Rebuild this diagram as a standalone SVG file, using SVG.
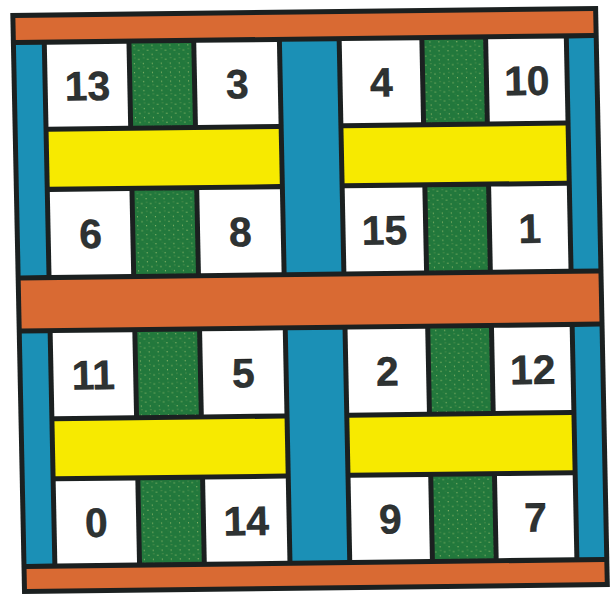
<svg xmlns="http://www.w3.org/2000/svg" width="616" height="595" viewBox="0 0 616 595">
<defs>
<pattern id="speck" width="9" height="9" patternUnits="userSpaceOnUse">
<rect width="9" height="9" fill="#22783c"/>
<circle cx="2" cy="3" r="0.7" fill="#8db868"/>
<circle cx="6.5" cy="7" r="0.6" fill="#9cc070"/>
<circle cx="7" cy="1.5" r="0.5" fill="#6fa058"/>
<circle cx="4" cy="5.5" r="0.4" fill="#5f9850"/>
</pattern>
</defs>
<style>
.frame{fill:#1b2020}
.or{fill:#d96a33}
.bl{fill:#1b90b6}
.gr{fill:url(#speck)}
.ye{fill:#f7ea00}
.ce{fill:#ffffff}
.num{font-family:"Liberation Sans",Arial,sans-serif;font-weight:bold;font-size:41px;fill:#2e3333;stroke:#111;stroke-width:0.4;text-anchor:middle}
</style>
<rect width="616" height="595" fill="#ffffff"/>
<g transform="matrix(0.9962 -0.0119 0.0203 1.0017 10.3 13.0)">
<rect class="frame" x="0" y="0" width="590" height="580"/>
<g id="bands">
<rect class="or" x="5" y="5" width="580" height="22"/>
<rect class="or" x="5" y="267" width="580" height="48"/>
<rect class="or" x="5" y="555" width="580" height="20"/>
<rect class="bl" x="5" y="32" width="26" height="230"/>
<rect class="bl" x="272" y="32" width="55" height="230"/>
<rect class="bl" x="560" y="32" width="25" height="230"/>
<rect class="bl" x="5" y="320" width="26" height="230"/>
<rect class="bl" x="272" y="320" width="55" height="230"/>
<rect class="bl" x="560" y="320" width="25" height="230"/>
<rect class="gr" x="121" y="32" width="60" height="82"/>
<rect class="gr" x="121" y="179" width="60" height="83"/>
<rect class="gr" x="415" y="32" width="59" height="82"/>
<rect class="gr" x="415" y="179" width="59" height="83"/>
<rect class="gr" x="121" y="320" width="60" height="83"/>
<rect class="gr" x="121" y="468" width="60" height="82"/>
<rect class="gr" x="415" y="320" width="59" height="83"/>
<rect class="gr" x="415" y="468" width="59" height="82"/>
<rect class="ye" x="36" y="119" width="231" height="55"/>
<rect class="ye" x="332" y="119" width="223" height="55"/>
<rect class="ye" x="36" y="408" width="231" height="55"/>
<rect class="ye" x="332" y="408" width="223" height="55"/>
</g>
<g id="c13"><rect class="ce" x="36" y="32" width="80" height="82"/><text class="num" x="76" y="88">13</text></g>
<g id="c3"><rect class="ce" x="186" y="32" width="81" height="82"/><text class="num" x="226.5" y="88">3</text></g>
<g id="c4"><rect class="ce" x="332" y="32" width="78" height="82"/><text class="num" x="371" y="88">4</text></g>
<g id="c10"><rect class="ce" x="479" y="32" width="76" height="82"/><text class="num" x="517" y="88">10</text></g>
<g id="c6"><rect class="ce" x="36" y="179" width="80" height="83"/><text class="num" x="76" y="235.5">6</text></g>
<g id="c8"><rect class="ce" x="186" y="179" width="81" height="83"/><text class="num" x="226.5" y="235.5">8</text></g>
<g id="c15"><rect class="ce" x="332" y="179" width="78" height="83"/><text class="num" x="371" y="235.5">15</text></g>
<g id="c1"><rect class="ce" x="479" y="179" width="76" height="83"/><text class="num" x="517" y="235.5">1</text></g>
<g id="c11"><rect class="ce" x="36" y="320" width="80" height="83"/><text class="num" x="76" y="376.5">11</text></g>
<g id="c5"><rect class="ce" x="186" y="320" width="81" height="83"/><text class="num" x="226.5" y="376.5">5</text></g>
<g id="c2"><rect class="ce" x="332" y="320" width="78" height="83"/><text class="num" x="371" y="376.5">2</text></g>
<g id="c12"><rect class="ce" x="479" y="320" width="76" height="83"/><text class="num" x="517" y="376.5">12</text></g>
<g id="c0"><rect class="ce" x="36" y="468" width="80" height="82"/><text class="num" x="76" y="524">0</text></g>
<g id="c14"><rect class="ce" x="186" y="468" width="81" height="82"/><text class="num" x="226.5" y="524">14</text></g>
<g id="c9"><rect class="ce" x="332" y="468" width="78" height="82"/><text class="num" x="371" y="524">9</text></g>
<g id="c7"><rect class="ce" x="479" y="468" width="76" height="82"/><text class="num" x="517" y="524">7</text></g>
</g>
</svg>
